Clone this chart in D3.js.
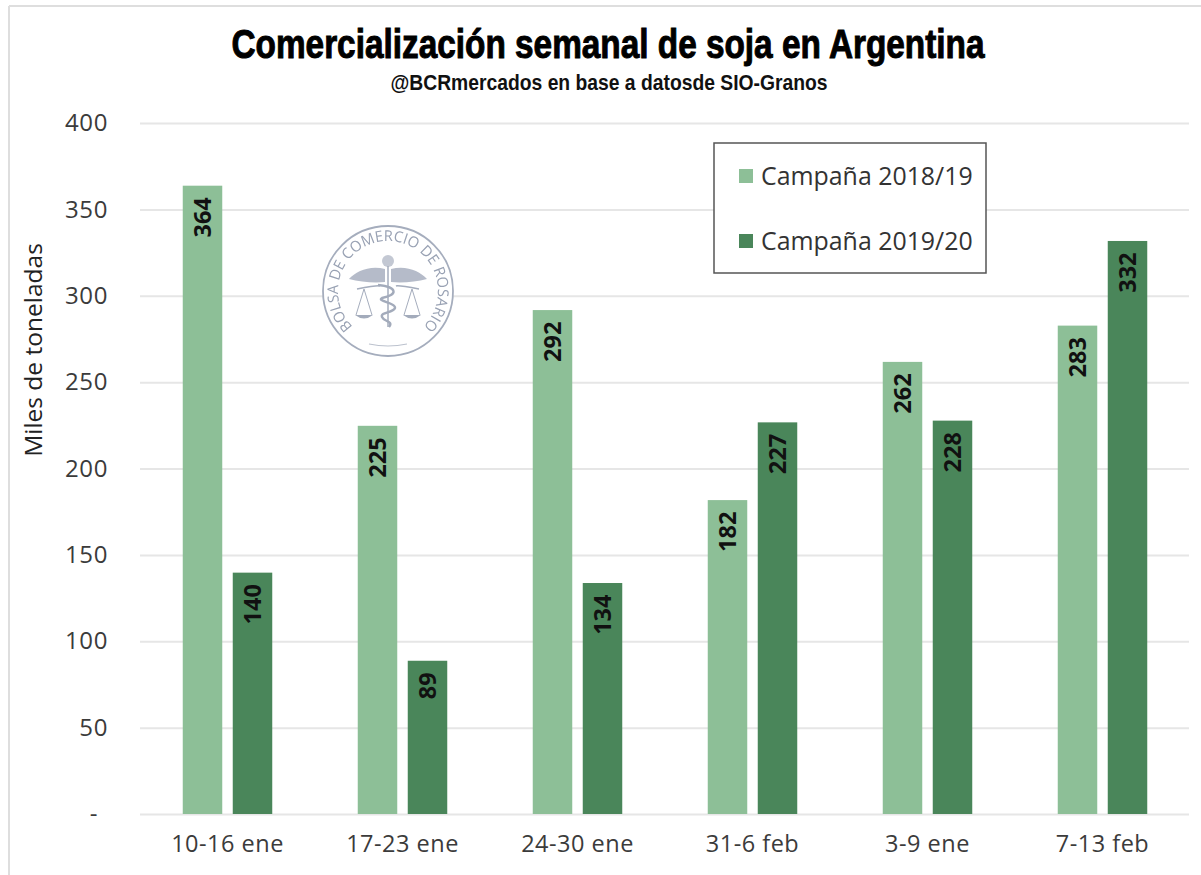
<!DOCTYPE html>
<html>
<head>
<meta charset="utf-8">
<script src="https://cdn.jsdelivr.net/npm/d3@7"></script>
<style>
  html, body { margin: 0; padding: 0; background: #fff; }
  text { font-family: "Open Sans", sans-serif; fill: #3b3b3b; }
</style>
</head>
<body>
<div id="chart"></div>
<script>
// data
var semanas = ["10-16 ene", "17-23 ene", "24-30 ene", "31-6 feb", "3-9 ene", "7-13 feb"];
var campana1819 = [364, 225, 292, 182, 262, 283];
var campana1920 = [140, 89, 134, 227, 228, 332];
var series = ["Campaña 2018/19", "Campaña 2019/20"];
var colores = ["#8dbf97", "#4a865a"];
var yTicks = [0, 50, 100, 150, 200, 250, 300, 350, 400];

var width = 1201, height = 875;
var margin = {top: 123, right: 12, bottom: 61, left: 140};

var svg = d3.select("#chart").append("svg")
    .attr("width", width)
    .attr("height", height)
    .style("display", "block");

svg.append("defs").append("filter").attr("id", "suave")
    .append("feGaussianBlur").attr("stdDeviation", 0.35);

// chart frame (only left and top show)
svg.append("line").attr("x1", 9).attr("x2", 9).attr("y1", 6).attr("y2", height)
    .attr("stroke", "#dedede").attr("stroke-width", 2);
svg.append("line").attr("x1", 9).attr("x2", width).attr("y1", 6).attr("y2", 6)
    .attr("stroke", "#dedede").attr("stroke-width", 2);

var g = svg.append("g")
    .attr("transform", "translate(" + margin.left + "," + margin.top + ")");

var w = width - margin.left - margin.right,
    h = height - margin.top - margin.bottom;

// Scales
var x = d3.scaleBand().domain(semanas).range([0, 1050]);
var y = d3.scaleLinear().domain([0, 400]).range([h, 0]);
var barW = 39.5, gap = 10.5;

// Axes
var yAxis = d3.axisLeft(y)
    .tickValues(yTicks)
    .tickSize(-w)
    .tickPadding(32)
    .tickFormat(function(d) { return d === 0 ? "-" : d; });

var gy = g.append("g").call(yAxis);
gy.select(".domain").remove();
gy.selectAll(".tick line").attr("stroke", "#e6e6e6").attr("stroke-width", 2);
gy.selectAll(".tick text").style("font-size", "24px").style("letter-spacing", "0.6px").attr("fill", "#3b3b3b");
gy.selectAll(".tick text").filter(function(d) { return d === 0; }).attr("dx", "-10px");

var xAxis = d3.axisBottom(x).tickSize(0).tickPadding(21);
var gx = g.append("g").attr("transform", "translate(0," + h + ")").call(xAxis);
gx.select(".domain").remove();
gx.selectAll(".tick text").style("font-size", "23.5px").style("letter-spacing", "0.5px").attr("fill", "#3b3b3b");

// Bars
[campana1819, campana1920].forEach(function(valores, s) {
    var dx = s === 0 ? -gap / 2 - barW : gap / 2;
    var grupo = g.append("g");

    grupo.selectAll("rect")
        .data(valores)
        .enter()
        .append("rect")
        .attr("x", function(d, i) { return x(semanas[i]) + x.bandwidth() / 2 + dx; })
        .attr("y", function(d) { return y(d) + 0.5; })
        .attr("width", barW)
        .attr("height", function(d) { return h - y(d) - 0.5; })
        .attr("fill", colores[s]);

    // rotated labels, inside the top of the bar
    grupo.selectAll("text")
        .data(valores)
        .enter()
        .append("text")
        .attr("transform", function(d, i) {
            var cx = x(semanas[i]) + x.bandwidth() / 2 + dx + barW / 2;
            return "translate(" + cx + "," + (y(d) + 12) + ") rotate(-90)";
        })
        .attr("text-anchor", "end")
        .attr("dy", "0.36em")
        .style("font-size", "23.5px")
        .style("font-weight", "700")
        .style("fill", "#111")
        .text(function(d) { return d; });
});

// Title
svg.append("text")
    .attr("x", 608).attr("y", 58)
    .attr("text-anchor", "middle")
    .attr("textLength", 753)
    .attr("lengthAdjust", "spacingAndGlyphs")
    .style("font-family", "'Liberation Sans', sans-serif")
    .style("font-size", "41px")
    .style("font-weight", "bold")
    .style("fill", "#000")
    .style("stroke", "#000")
    .style("stroke-width", "1px")
    .text("Comercialización semanal de soja en Argentina");

svg.append("text")
    .attr("x", 609).attr("y", 90)
    .attr("text-anchor", "middle")
    .attr("textLength", 437)
    .attr("lengthAdjust", "spacingAndGlyphs")
    .style("font-family", "'Liberation Sans', sans-serif")
    .style("font-size", "21.5px")
    .style("font-weight", "bold")
    .style("fill", "#111")
    .text("@BCRmercados en base a datosde SIO-Granos");

// Y axis title
svg.append("text")
    .attr("transform", "translate(42,350) rotate(-90)")
    .attr("text-anchor", "middle")
    .style("font-size", "24.5px")
    .style("fill", "#222")
    .text("Miles de toneladas");

// Legend
var legend = svg.append("g").attr("transform", "translate(714,143)");
legend.append("rect")
    .attr("width", 272).attr("height", 130)
    .attr("fill", "#fff")
    .attr("stroke", "#555").attr("stroke-width", 1.5);

series.forEach(function(nombre, i) {
    var row = legend.append("g").attr("transform", "translate(25," + (33 + i * 65) + ")");
    row.append("rect").attr("y", -7).attr("width", 14).attr("height", 14).attr("fill", colores[i]);
    row.append("text")
        .attr("x", 22).attr("dy", "0.36em")
        .style("font-size", "24.9px")
        .style("fill", "#333")
        .text(nombre);
});

// Seal of the Bolsa
var sello = svg.append("g").attr("transform", "translate(388,291)").attr("filter", "url(#suave)");
var azul = "#a5adbd";
sello.append("circle").attr("r", 65).attr("fill", "#fff").attr("stroke", azul).attr("stroke-width", 1.8);
sello.append("path").attr("id", "arcoSello")
    .attr("fill", "none")
    .attr("d", "M 0 50 A 50 50 0 0 1 0 -50 A 50 50 0 0 1 0 50");
sello.append("text")
    .style("font-size", "15px")
    .style("fill", "#98a1b3")
    .append("textPath")
    .attr("href", "#arcoSello")
    .attr("startOffset", "50%")
    .attr("text-anchor", "middle")
    .attr("textLength", 236)
    .attr("lengthAdjust", "spacingAndGlyphs")
    .text("BOLSA DE COMERCIO DE ROSARIO");
// wings
sello.append("path").attr("fill", "#b5bbc9")
    .attr("d", "M -3 -22 C -18 -26 -32 -20 -39 -12 C -28 -9 -14 -8 -3 -9 Z M 3 -22 C 18 -26 32 -20 39 -12 C 28 -9 14 -8 3 -9 Z");
sello.append("circle").attr("cy", -30).attr("r", 6).attr("fill", "#c3c8d3");
// staff and beam
sello.append("path").attr("fill", "none").attr("stroke", azul).attr("stroke-width", 1.5)
    .attr("d", "M 0 -25 L 0 36 M -31 -2 Q -10 -6 -8 -5 M 31 -2 Q 10 -6 8 -5");
// snake
sello.append("path").attr("fill", "none").attr("stroke", "#a3abbb").attr("stroke-width", 2.4)
    .attr("d", "M -10 -6 C 10 -4 10 4 -6 7 C -12 10 8 12 7 17 C 5 22 -8 21 -6 26 C -4 31 6 30 1 36");
// scale pans
sello.append("path").attr("fill", "none").attr("stroke", azul).attr("stroke-width", 1)
    .attr("d", "M -24 -2 L -32 24 M -24 -2 L -16 24 M 24 -2 L 32 24 M 24 -2 L 16 24");
sello.append("path").attr("fill", "#a3abbb")
    .attr("d", "M -33 24 H -15 Q -24 31 -33 24 Z M 15 24 H 33 Q 24 31 15 24 Z");
sello.append("path").attr("fill", "none").attr("stroke", "#bcc2ce").attr("stroke-width", 1.2)
    .attr("d", "M -19 53 Q 0 57 19 53");
</script>
</body>
</html>
